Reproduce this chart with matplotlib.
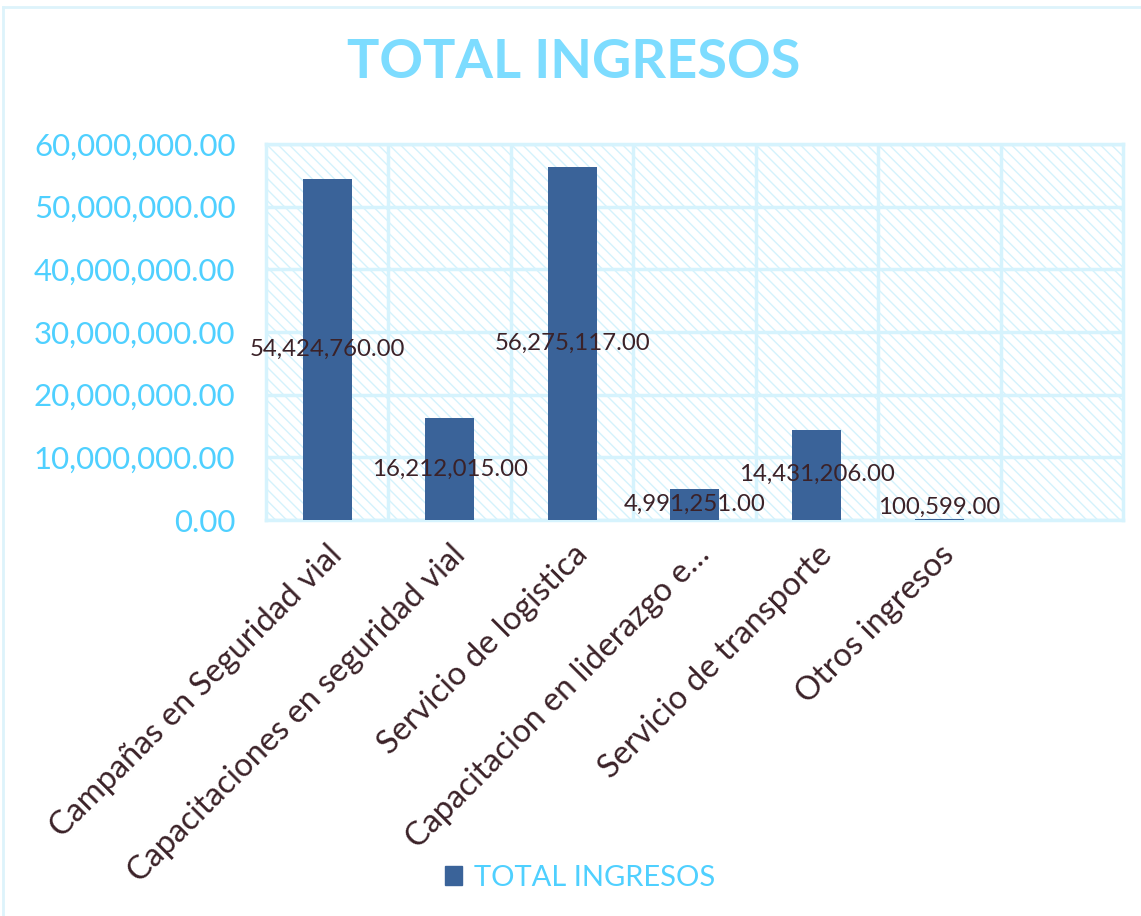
import matplotlib
matplotlib.use("Agg")
import matplotlib.pyplot as plt
from matplotlib.patches import Rectangle
from matplotlib.lines import Line2D
from matplotlib.ticker import FuncFormatter, FixedLocator

categories = [
    "Campañas en Seguridad vial",
    "Capacitaciones en seguridad vial",
    "Servicio de logistica",
    "Capacitacion en liderazgo e…",
    "Servicio de transporte",
    "Otros ingresos",
    "",
]
values = [54424760.00, 16212015.00, 56275117.00, 4991251.00, 14431206.00, 100599.00, None]
series_name = "TOTAL INGRESOS"
y_ticks = [0, 10000000, 20000000, 30000000, 40000000, 50000000, 60000000]

BAR = "#3A6399"
TITLE_C = "#7DDCFF"
TICK_C = "#4FD0FF"
TEXT_DARK = "#3B2228"
GRID_C = "#D6F3FD"
HATCH_C = "#D4F2FC"

plt.rcParams["font.family"] = ["Lato", "DejaVu Sans"]
plt.rcParams["hatch.linewidth"] = 1.0
plt.rcParams["hatch.color"] = HATCH_C

fig = plt.figure(figsize=(11.41, 9.16), dpi=100)
ax = fig.add_axes([266 / 1141, 1 - 520 / 916, (1123 - 266) / 1141, (520 - 144) / 916])

# hatched background
ax.set_facecolor("white")
bg = Rectangle((0, 0), 1, 1, transform=ax.transAxes, facecolor="white",
               edgecolor=HATCH_C, hatch="\\\\\\", linewidth=0, zorder=0)
ax.add_patch(bg)

xs = list(range(len(categories)))
bar_x = [x for x, v in zip(xs, values) if v is not None]
bar_v = [v for v in values if v is not None]
ax.bar(bar_x, bar_v, width=0.4, color=BAR, zorder=3, label=series_name)

for x, v in zip(bar_x, bar_v):
    ax.text(x, max(v / 2, 2.0e6), f"{v:,.2f}", ha="center", va="center",
            fontsize=17.3, color=TEXT_DARK, zorder=4)

ax.set_xlim(-0.5, len(categories) - 0.5)
ax.set_ylim(0, 60000000)
ax.yaxis.set_major_locator(FixedLocator(y_ticks))
ax.yaxis.set_major_formatter(FuncFormatter(lambda v, p: f"{v:,.2f}"))
ax.set_xticks(xs)
ax.set_xticklabels(categories, rotation=45, ha="right", rotation_mode="anchor",
                   fontsize=23.5, color=TEXT_DARK)
ax.xaxis.set_minor_locator(FixedLocator([x + 0.5 for x in xs[:-1]]))
ax.tick_params(axis="y", length=0, pad=22, labelsize=22.5, labelcolor=TICK_C)
ax.tick_params(axis="x", which="both", length=0, pad=14)

ax.grid(True, axis="y", which="major", color=GRID_C, linewidth=2.5, zorder=1)
ax.grid(True, axis="x", which="minor", color=GRID_C, linewidth=2.5, zorder=1)
for gl in ax.get_ygridlines() + ax.xaxis.get_minorticklines():
    pass
ax.set_axisbelow(False)
for s in ax.spines.values():
    s.set_color(GRID_C)
    s.set_linewidth(2.5)
    s.set_zorder(1)

fig.text(574 / 1141, 1 - 63 / 916, "TOTAL INGRESOS", ha="center", va="center",
         fontsize=39, fontweight="bold", color=TITLE_C)

handles = [Rectangle((0, 0), 1, 1, color=BAR)]
leg = fig.legend(handles, [series_name], loc="center", bbox_to_anchor=(580 / 1141, 1 - 878 / 916),
                 frameon=False, fontsize=21, handlelength=0.6, handleheight=0.6, handletextpad=0.4)
for t in leg.get_texts():
    t.set_color(TICK_C)

# figure frame
fig.add_artist(Line2D([3 / 1141, 3 / 1141], [0, 1 - 7 / 916], transform=fig.transFigure,
                      color="#DDF3FB", linewidth=2))
fig.add_artist(Line2D([3 / 1141, 1], [1 - 7 / 916, 1 - 7 / 916], transform=fig.transFigure,
                      color="#DDF3FB", linewidth=2))

fig.savefig("out.png", dpi=100)
